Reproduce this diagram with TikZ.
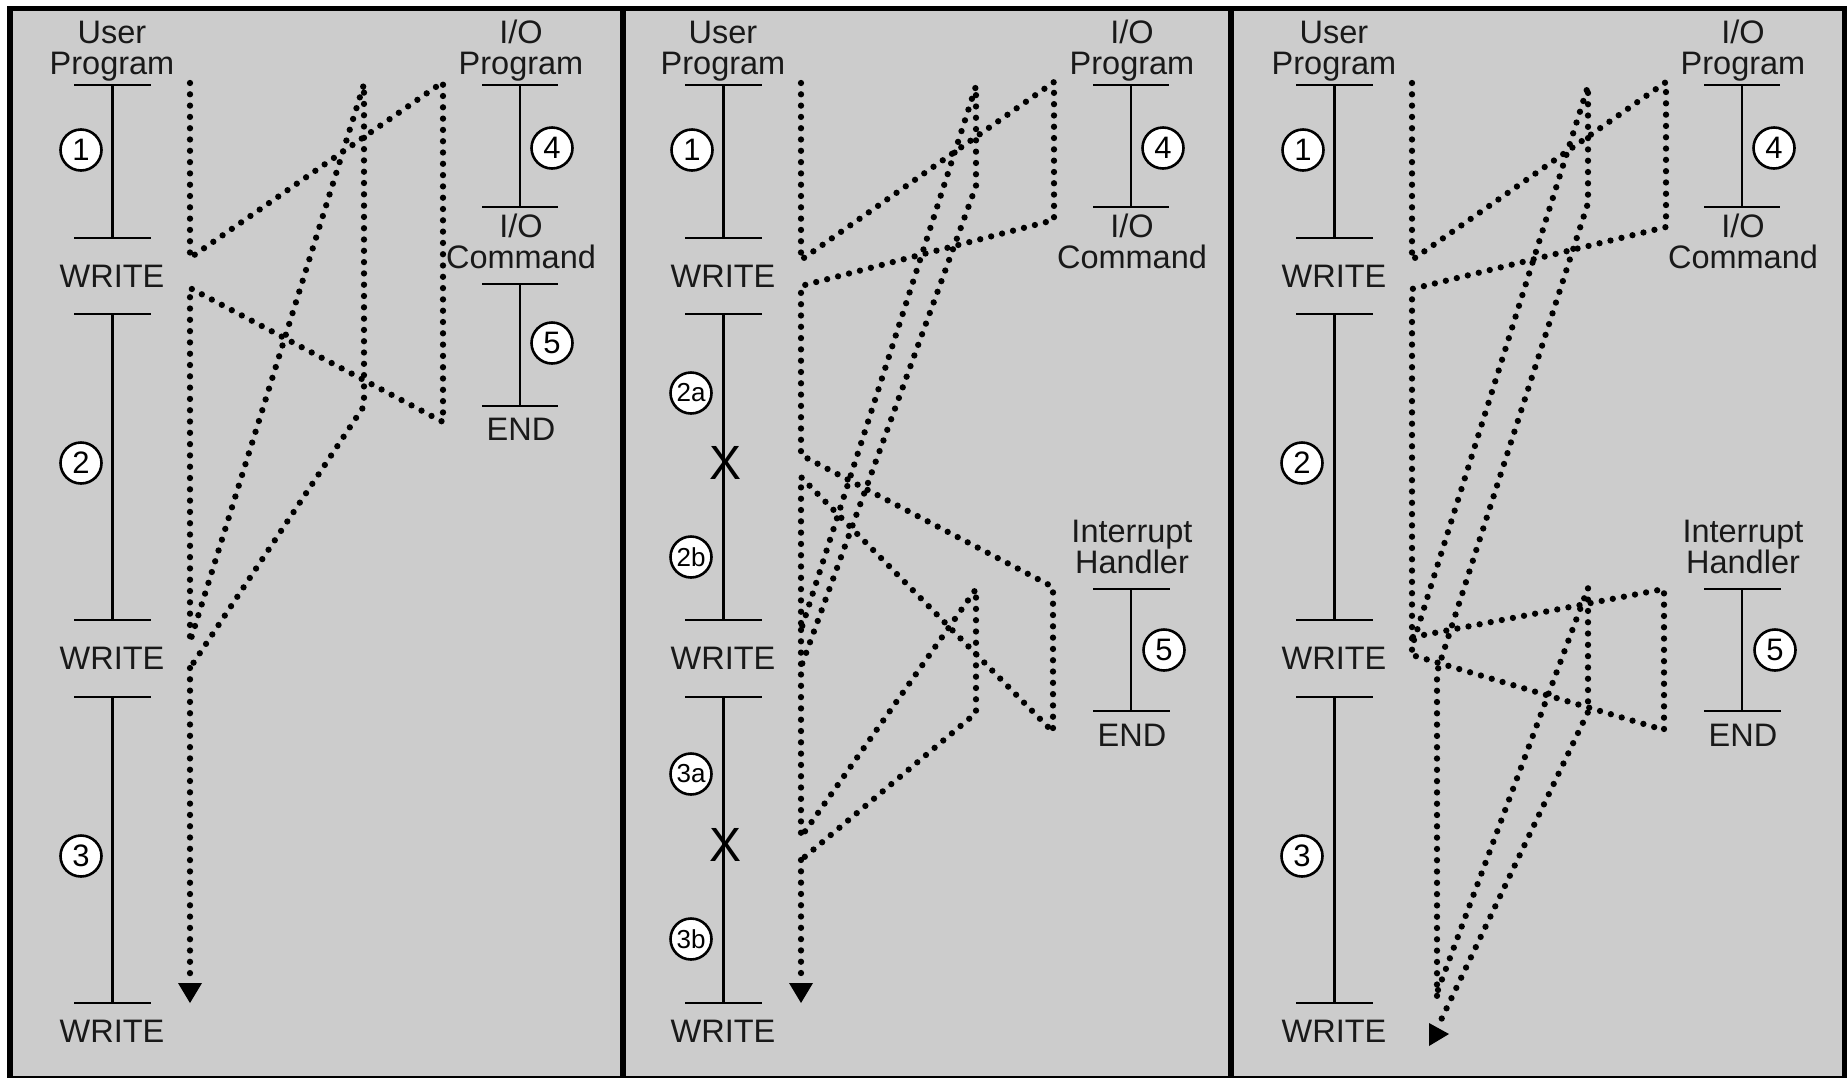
\documentclass[tikz,border=0pt]{standalone}
\usepackage{fontspec}
\setmainfont{Liberation Sans}
\usetikzlibrary{arrows.meta}
\definecolor{panelgray}{RGB}{204,204,204}
\begin{document}
\begin{tikzpicture}[x=1pt,y=-1pt,
  lbl/.style={font=\fontsize{32.5}{33}\selectfont, anchor=base, inner sep=0pt, text=black!90},
  num/.style={circle, draw, fill=white, line width=2.6pt, minimum size=41pt, inner sep=0pt, font=\fontsize{31}{31}\selectfont},
  numsm/.style={num, font=\fontsize{26}{26}\selectfont},
  xmark/.style={inner sep=0pt, font=\fontsize{48}{48}\selectfont},
  bar/.style={line width=2.6pt},
  frame/.style={line width=5.5pt},
  flow/.style={line width=6.3pt, dash pattern=on 0pt off 11.3pt, line cap=round, line join=round},
  tip/.style={-{Triangle[length=20pt,width=24pt,line width=0pt]}}
]
\useasboundingbox (0,0) rectangle (1847,1077);
\fill[white] (0,0) rectangle (1847,1077);
\fill[panelgray] (10,8.5) rectangle (1844.5,1079);
\draw[frame] (10,8.5) rectangle (1844.5,1079);
\draw[frame] (623,8.5) -- (623,1079);
\draw[frame] (1231,8.5) -- (1231,1079);

% common parts of the three panels
\foreach \o/\p in {0/a,611/b,1222/c}{
  \node[lbl] (us\p) at ({112+\o},43) {User};
  \node[lbl] (up\p) at ({112+\o},74) {Program};
  \node[lbl] (wa\p) at ({112+\o},287.5) {WRITE};
  \node[lbl] (wb\p) at ({112+\o},669.5) {WRITE};
  \node[lbl] (wc\p) at ({112+\o},1042.7) {WRITE};
  \node[lbl] (io\p) at ({521+\o},43) {I/O};
  \node[lbl] (ip\p) at ({521+\o},74) {Program};
  \node[lbl] (ic\p) at ({521+\o},237.6) {I/O};
  \node[lbl] (icm\p) at ({521+\o},268.6) {Command};
  \foreach \y in {85,238,314,620,697,1003}
    \draw[bar] ({74+\o},\y) -- ({151+\o},\y);
  \draw[bar] ({112.5+\o},85) -- ({112.5+\o},238)
             ({112.5+\o},314) -- ({112.5+\o},620)
             ({112.5+\o},697) -- ({112.5+\o},1003);
  \foreach \y in {85,207}
    \draw[bar] ({482+\o},\y) -- ({558+\o},\y);
  \draw[bar] ({520+\o},85) -- ({520+\o},207);
  \node[num] (n1\p) at ({81+\o},150) {1};
  \node[num] (n4\p) at ({552+\o},148) {4};
}

% panel 1
\draw[bar] (482,284) -- (558,284) (482,406) -- (558,406) (520,284) -- (520,406);
\node[lbl] (enda) at (521,440.8) {END};
\node[num] (n2a) at (81,463) {2};
\node[num] (n3a) at (81,856) {3};
\node[num] (n5a) at (552,343) {5};

% panel 2
\node[numsm] (n2ab) at (691,393) {2a};
\node[numsm] (n2bb) at (691,557) {2b};
\node[numsm] (n3ab) at (691,774) {3a};
\node[numsm] (n3bb) at (691,939) {3b};
\node[xmark] (xab) at (725,463) {X};
\node[xmark] (xbb) at (725,845) {X};
\node[lbl] (ihb) at (1132,542.6) {Interrupt};
\node[lbl] (hhb) at (1132,573.6) {Handler};
\draw[bar] (1093,589) -- (1170,589) (1093,711) -- (1170,711) (1131,589) -- (1131,711);
\node[lbl] (endb) at (1132,746) {END};
\node[num] (n5b) at (1164,650) {5};

% panel 3
\node[num] (n2c) at (1302,463) {2};
\node[num] (n3c) at (1302,856) {3};
\node[lbl] (ihc) at (1743,542.6) {Interrupt};
\node[lbl] (hhc) at (1743,573.6) {Handler};
\draw[bar] (1704,589) -- (1781,589) (1704,711) -- (1781,711) (1742,589) -- (1742,711);
\node[lbl] (endc) at (1743,746) {END};
\node[num] (n5c) at (1775,650) {5};

% flow of control, panel 1
\coordinate (a0) at (190,83);   \coordinate (a1) at (190,258);
\coordinate (a2) at (443,82);   \coordinate (a3) at (443,422);
\coordinate (a4) at (190,288);  \coordinate (a5) at (190,642);
\coordinate (a6) at (364,84);   \coordinate (a7) at (364,406);
\coordinate (a8) at (190,668);  \coordinate (a9) at (190,1003);
\draw[flow] (a0) -- (a1) -- (a2) -- (a3) -- (a4) -- (a5) -- (a6) -- (a7) -- (a8);
\draw[flow,tip] (a8) -- (a9);

% flow of control, panel 2
\coordinate (b0) at (801,83);    \coordinate (b1) at (801,260);
\coordinate (b2) at (1054,82);   \coordinate (b3) at (1054,220);
\coordinate (b4) at (801,286);   \coordinate (b5) at (801,455);
\coordinate (b6) at (1053,587);  \coordinate (b7) at (1053,732);
\coordinate (b8) at (801,477);   \coordinate (b9) at (801,630);
\coordinate (b10) at (976,86);   \coordinate (b11) at (976,186);
\coordinate (b12) at (801,667);  \coordinate (b13) at (801,837);
\coordinate (b14) at (976,589);  \coordinate (b15) at (976,713);
\coordinate (b16) at (801,860);  \coordinate (b17) at (801,1003);
\draw[flow] (b0) -- (b1) -- (b2) -- (b3) -- (b4) -- (b5) -- (b6) -- (b7) -- (b8) -- (b9)
  -- (b10) -- (b11) -- (b12) -- (b13) -- (b14) -- (b15) -- (b16);
\draw[flow] (b9) -- (b12);
\draw[flow,tip] (b16) -- (b17);

% flow of control, panel 3
\coordinate (c0) at (1412,83);   \coordinate (c1) at (1412,260);
\coordinate (c2) at (1666,82);   \coordinate (c3) at (1666,227);
\coordinate (c4) at (1412,289);  \coordinate (c5) at (1412,655);
\coordinate (c6) at (1413,637);  \coordinate (c7) at (1664,589);
\coordinate (c8) at (1664,730);
\coordinate (c9) at (1414,640);  \coordinate (c10) at (1588,86);
\coordinate (c11) at (1588,203); \coordinate (c12) at (1437,672);
\coordinate (c13) at (1437,1002);
\coordinate (c14) at (1438,990); \coordinate (c15) at (1588,588);
\coordinate (c16) at (1588,712); \coordinate (c17) at (1441,1020);
\draw[flow] (c0) -- (c1) -- (c2) -- (c3) -- (c4) -- (c5);
\draw[flow] (c6) -- (c7) -- (c8) -- (c5);
\draw[flow] (c9) -- (c10) -- (c11) -- (c12) -- (c13);
\draw[flow] (c14) -- (c15) -- (c16) -- (c17);
\fill (1429,1023) -- (1429,1046) -- (1449,1034) -- cycle;
\end{tikzpicture}
\end{document}
